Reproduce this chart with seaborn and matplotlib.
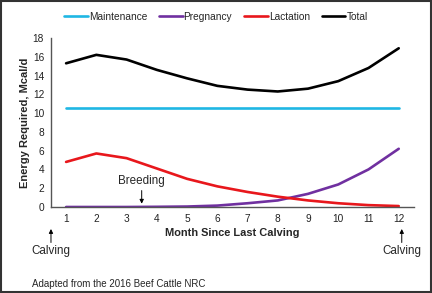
import pandas as pd
import matplotlib.pyplot as plt
import numpy as np
import seaborn as sns
from matplotlib.patches import Rectangle

months = [1, 2, 3, 4, 5, 6, 7, 8, 9, 10, 11, 12]
maintenance = [10.5, 10.5, 10.5, 10.5, 10.5, 10.5, 10.5, 10.5, 10.5, 10.5, 10.5, 10.5]
pregnancy = [0.0, 0.0, 0.0, 0.02, 0.05, 0.15, 0.4, 0.7, 1.4, 2.4, 4.0, 6.2]
lactation = [4.8, 5.7, 5.2, 4.1, 3.0, 2.2, 1.6, 1.1, 0.7, 0.4, 0.2, 0.1]
total = [15.3, 16.2, 15.7, 14.6, 13.7, 12.9, 12.5, 12.3, 12.6, 13.4, 14.8, 16.9]

series_names = ['Maintenance', 'Pregnancy', 'Lactation', 'Total']
colors = ['#1FB7E4', '#7030A0', '#E8171C', '#000000']

df = pd.concat([
    pd.DataFrame({'Month': months, 'Energy': vals, 'Series': name})
    for name, vals in zip(series_names, [maintenance, pregnancy, lactation, total])
], ignore_index=True)

sns.set_style('white')
plt.rcParams['font.family'] = ['Liberation Sans', 'DejaVu Sans']

fig = plt.figure(figsize=(4.32, 2.93), dpi=100)
ax = fig.add_axes([0.118, 0.2935, 0.84, 0.577])

sns.lineplot(data=df, x='Month', y='Energy', hue='Series', hue_order=series_names,
             palette=colors, linewidth=1.9, ax=ax, legend=False)

ax.set_xlim(0.5, 12.5)
ax.set_ylim(0, 18)
ax.set_xticks(months)
ax.set_yticks(range(0, 19, 2))
ax.tick_params(axis='both', length=0, labelsize=7.3, colors='#222222', pad=5)
for s in ['top', 'right']:
    ax.spines[s].set_visible(False)
for s in ['left', 'bottom']:
    ax.spines[s].set_color('#555555')
    ax.spines[s].set_linewidth(1.0)

ax.set_xlabel('Month Since Last Calving', fontsize=7.9, fontweight='bold', labelpad=3)
ax.set_ylabel('Energy Required, Mcal/d', fontsize=8, fontweight='bold', labelpad=2)

handles = [plt.Line2D([], [], color=c, linewidth=1.9) for c in colors]
fig.legend(handles, series_names, loc='center', bbox_to_anchor=(0.5, 0.942),
           ncol=4, frameon=False, fontsize=7.3, handlelength=2.3, handletextpad=0.1,
           columnspacing=1.2)

# annotations
ax.annotate('', xy=(3.5, 0.35), xytext=(3.5, 1.75),
            arrowprops=dict(arrowstyle='-|>', color='black', lw=0.7,
                            mutation_scale=6, shrinkA=0, shrinkB=0))
ax.text(3.5, 2.1, 'Breeding', ha='center', va='bottom', fontsize=8.4)
tr = ax.get_xaxis_transform()
ax.annotate('', xy=(0.5, -0.13), xytext=(0.5, -0.21), xycoords=tr, textcoords=tr,
            arrowprops=dict(arrowstyle='-|>', color='black', lw=0.7, mutation_scale=6,
                            shrinkA=0, shrinkB=0), annotation_clip=False)
ax.text(0.5, -0.26, 'Calving', transform=tr, ha='center', va='center', fontsize=8.4)
ax.annotate('', xy=(12.1, -0.13), xytext=(12.1, -0.21), xycoords=tr, textcoords=tr,
            arrowprops=dict(arrowstyle='-|>', color='black', lw=0.7, mutation_scale=6,
                            shrinkA=0, shrinkB=0), annotation_clip=False)
ax.text(12.1, -0.26, 'Calving', transform=tr, ha='center', va='center', fontsize=8.4)

fig.text(0.074, 0.03, 'Adapted from the 2016 Beef Cattle NRC', fontsize=7.0, va='center')

fig.patches.append(Rectangle((0.002, 0.003), 0.996, 0.994, transform=fig.transFigure,
                             fill=False, edgecolor='#333333', linewidth=1.5))

fig.savefig('out.png', dpi=100)
